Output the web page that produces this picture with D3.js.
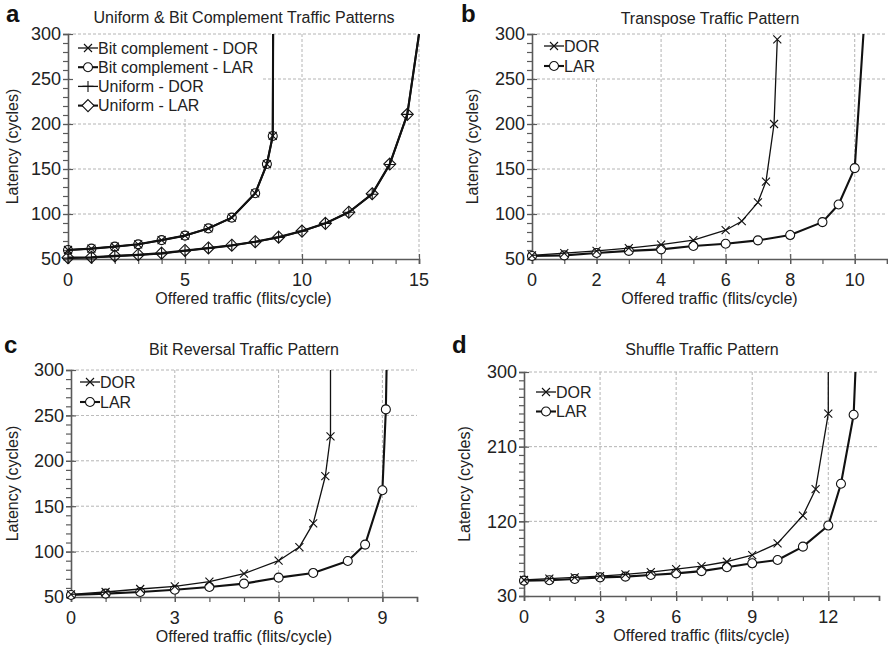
<!DOCTYPE html>
<html lang="en">
<head>
<meta charset="UTF-8">
<title>Latency vs offered traffic</title>
<script src="https://d3js.org/d3.v7.min.js"></script>
<style>
  body { margin: 0; background: #fff; }
  svg { font-family: "Liberation Sans", Arial, Helvetica, sans-serif; fill: #222; }
  .grid line { stroke: #b4b4b4; stroke-dasharray: 3,2; stroke-width: 1; }
  .axis line, .axis path { stroke: #5a5a5a; }
</style>
</head>
<body>
<svg id="chart" width="888" height="653"></svg>
<script>
// ---- panel a: uniform & bit complement ----
const bcX      = [0, 1, 2, 3, 4, 5, 6, 7, 8, 8.5, 8.75, 8.77];
const bcDOR    = [60, 61.5, 63.7, 66.3, 71, 76, 84, 96, 123, 155.5, 186.7, 330];
const bcLAR    = [60, 61.5, 63.7, 66.3, 71, 76, 84, 96, 123, 155.5, 186.7, 330];
const uniX     = [0, 1, 2, 3, 4, 5, 6, 7, 8, 9, 10, 11, 12, 13, 13.75, 14.5, 15];
const uniDOR   = [51, 51.5, 53, 54.4, 56, 59, 62, 65, 69, 74, 81, 89.6, 102, 122, 155, 210.7, 300];
const uniLAR   = [51.5, 52, 53.5, 54.8, 56.5, 59.5, 62.3, 65.3, 69.2, 74.3, 81, 89.6, 102, 122.5, 155.5, 210.7, 300];

// ---- panel b: transpose ----
const trDORx   = [0, 1, 2, 3, 4, 5, 6, 6.5, 7, 7.25, 7.5, 7.6];
const trDOR    = [54, 56.5, 59, 62, 66, 71, 82, 92, 113, 136, 200, 294];
const trLARx   = [0, 1, 2, 3, 4, 5, 6, 7, 8, 9, 9.5, 10, 10.27];
const trLAR    = [53.3, 54, 56.7, 59, 60.7, 64.4, 67, 70.7, 76.6, 91, 110.6, 151, 300];

// ---- panel c: bit reversal ----
const brDORx   = [0, 1, 2, 3, 4, 5, 6, 6.6, 7, 7.35, 7.5, 7.5];
const brDOR    = [53, 55.5, 58.8, 61.8, 67, 75.7, 90, 105, 131, 183, 227, 300];
const brLARx   = [0, 1, 2, 3, 4, 5, 6, 7, 8, 8.5, 9, 9.1, 9.12];
const brLAR    = [52.2, 53.7, 55.5, 58, 61, 64.7, 71.3, 76.5, 89.7, 107.7, 167.6, 256.6, 300];

// ---- panel d: shuffle ----
const shDORx   = [0, 1, 2, 3, 4, 5, 6, 7, 8, 9, 10, 11, 11.5, 12, 12];
const shDOR    = [49.3, 51, 52.5, 54, 56, 58.9, 62.5, 66, 71.3, 79.4, 93.5, 127, 158.7, 249.7, 300];
const shLARx   = [0, 1, 2, 3, 4, 5, 6, 7, 8, 9, 10, 11, 12, 12.5, 13, 13.07];
const shLAR    = [48.5, 49, 50.5, 52.5, 53.3, 55.3, 57.3, 60, 64.6, 69.4, 73.4, 89.5, 114.9, 165.3, 248.5, 300];

const ticks50  = [50, 100, 150, 200, 250, 300];
const ticks90  = [30, 120, 210, 300];

const svg = d3.select("#chart");

function markerPath(type, s) {
  if (type === "x") return `M${-s},${-s}L${s},${s}M${-s},${s}L${s},${-s}`;
  if (type === "plus") return `M${-s - 1},0L${s + 1},0M0,${-s - 1}L0,${s + 1}`;
  if (type === "diamond") { const d = s + 1.5; return `M0,${-d}L${d},0L0,${d}L${-d},0Z`; }
  return d3.arc()({innerRadius: 0, outerRadius: s, startAngle: 0, endAngle: 2 * Math.PI});
}

function drawPanel(p) {
  const w = p.right - p.left, h = p.bottom - p.top;
  const g = svg.append("g").attr("transform", `translate(${p.left},${p.top})`);
  const x = d3.scaleLinear().domain(p.xDomain).range([0, w]);
  const y = d3.scaleLinear().domain(p.yDomain).range([h, 0]);

  // grid
  const grid = g.append("g").attr("class", "grid");
  grid.selectAll(".gx").data(p.xTicks.filter(t => t > p.xDomain[0])).join("line")
    .attr("x1", d => x(d)).attr("x2", d => x(d)).attr("y1", 0).attr("y2", h);
  grid.selectAll(".gy").data(p.yTicks.filter(t => t > p.yDomain[0])).join("line")
    .attr("x1", 0).attr("x2", w).attr("y1", d => y(d)).attr("y2", d => y(d));

  // legend background hides grid
  if (p.legendBox) {
    g.append("rect").attr("x", 2).attr("y", 1)
      .attr("width", p.legendBox[0]).attr("height", p.legendBox[1]).attr("fill", "#fff");
  }

  // axes
  const minorX = d3.range(p.xDomain[0], p.xDomain[1] + 0.001, 1);
  const minorY = d3.range(p.yDomain[0], p.yDomain[1] + 0.001, 10);
  const ax = g.append("g").attr("class", "axis").attr("transform", `translate(0,${h})`);
  ax.call(d3.axisBottom(x).tickValues(minorX).tickSize(5).tickFormat(""));
  ax.append("g").call(d3.axisBottom(x).tickValues(p.xTicks).tickSize(5).tickSizeOuter(0).tickFormat(""))
    .call(s => s.select(".domain").remove())
    .selectAll("line").attr("y1", -5);
  ax.select(".domain").attr("stroke-width", 1.6);
  ax.selectAll("line").attr("stroke-width", 1.2);
  ax.selectAll(".xl").data(p.xTicks).join("text")
    .attr("x", d => x(d)).attr("y", 27).attr("text-anchor", "middle")
    .attr("font-size", 18).attr("fill", "#222").text(d => d);

  const ay = g.append("g").attr("class", "axis");
  ay.call(d3.axisLeft(y).tickValues(minorY).tickSize(5).tickFormat(""));
  ay.append("g").call(d3.axisLeft(y).tickValues(p.yTicks).tickSize(5).tickSizeOuter(0).tickFormat(""))
    .call(s => s.select(".domain").remove())
    .selectAll("line").attr("x1", 5);
  ay.select(".domain").attr("stroke-width", 1.6);
  ay.selectAll("line").attr("stroke-width", 1.2);
  ay.selectAll(".yl").data(p.yTicks).join("text")
    .attr("x", -7).attr("y", d => y(d)).attr("dy", "0.36em").attr("text-anchor", "end")
    .attr("font-size", 18).attr("fill", "#222").text(d => d);

  // labels
  g.append("text").attr("x", w / 2).attr("y", h + 45).attr("text-anchor", "middle")
    .attr("font-size", 16).attr("fill", "#222").text("Offered traffic (flits/cycle)");
  g.append("text").attr("transform", `translate(${p.yLabelX - p.left},${h / 2}) rotate(-90)`)
    .attr("text-anchor", "middle").attr("font-size", 16).attr("fill", "#222").text("Latency (cycles)");
  svg.append("text").attr("x", p.titleX).attr("y", p.titleY).attr("text-anchor", "middle")
    .attr("font-size", 16).attr("fill", "#222").text(p.title);
  svg.append("text").attr("x", p.letterX).attr("y", p.letterY)
    .attr("font-size", 24).attr("font-weight", "bold").attr("fill", "#111").text(p.letter);

  // series
  const clipId = "clip-" + p.letter;
  g.append("clipPath").attr("id", clipId).append("rect")
    .attr("x", -10).attr("y", 0).attr("width", w + 20).attr("height", h + 10);
  const plot = g.append("g").attr("clip-path", `url(#${clipId})`);
  const line = d3.line().x(d => x(d[0])).y(d => y(d[1]));

  p.series.forEach(s => {
    const pts = s.xs.map((v, i) => [v, s.ys[i]]);
    plot.append("path").datum(pts).attr("fill", "none").attr("stroke", "#111")
      .attr("stroke-width", s.width).attr("stroke-linejoin", "round").attr("d", line);
    plot.selectAll(null).data(pts.filter(d => d[1] < p.yDomain[1])).join("path")
      .attr("transform", d => `translate(${x(d[0])},${y(d[1])})`)
      .attr("d", markerPath(s.marker, s.marker === "x" ? 4 : 4.5))
      .attr("fill", s.marker === "x" || s.marker === "plus" ? "none" : s.fill)
      .attr("stroke", "#111").attr("stroke-width", 1.1);
  });

  // legend
  p.legend.forEach((s, i) => {
    const ly = p.legendY + i * p.legendStep;
    const lg = g.append("g").attr("transform", `translate(${p.legendX},${ly})`);
    lg.append("line").attr("x1", 0).attr("x2", 20).attr("stroke", "#111").attr("stroke-width", s.width);
    lg.append("path").attr("transform", "translate(10,0)").attr("d", markerPath(s.marker, s.marker === "x" ? 4 : 4.5))
      .attr("fill", s.marker === "x" || s.marker === "plus" ? "none" : "#fff")
      .attr("stroke", "#111").attr("stroke-width", 1.1);
    lg.append("text").attr("x", 20).attr("dy", "0.36em").attr("font-size", 16).attr("fill", "#222").text(s.name);
  });
}

const dorW = 1.3, larW = 2.1;

drawPanel({
  letter: "a", letterX: 6, letterY: 22, title: "Uniform & Bit Complement Traffic Patterns", titleX: 244, titleY: 23,
  left: 68, right: 419, top: 34, bottom: 259, yLabelX: 18,
  xDomain: [0, 15], yDomain: [50, 300], xTicks: [0, 5, 10, 15], yTicks: ticks50,
  legendBox: [192, 82], legendX: 10, legendY: 14, legendStep: 19.2,
  series: [
    {xs: bcX, ys: bcLAR, marker: "circle", fill: "none", width: larW},
    {xs: bcX, ys: bcDOR, marker: "x", width: dorW + 0.6},
    {xs: uniX, ys: uniLAR, marker: "diamond", fill: "none", width: larW},
    {xs: uniX, ys: uniDOR, marker: "plus", width: dorW + 0.6}
  ],
  legend: [
    {name: "Bit complement - DOR", marker: "x", width: dorW},
    {name: "Bit complement - LAR", marker: "circle", width: larW},
    {name: "Uniform - DOR", marker: "plus", width: dorW},
    {name: "Uniform - LAR", marker: "diamond", width: larW}
  ]
});

drawPanel({
  letter: "b", letterX: 461, letterY: 22, title: "Transpose Traffic Pattern", titleX: 710, titleY: 24,
  left: 532, right: 887, top: 34, bottom: 259, yLabelX: 478,
  xDomain: [0, 11], yDomain: [50, 300], xTicks: [0, 2, 4, 6, 8, 10], yTicks: ticks50,
  legendBox: [72, 42], legendX: 12, legendY: 12, legendStep: 20,
  series: [
    {xs: trLARx, ys: trLAR, marker: "circle", fill: "#fff", width: larW},
    {xs: trDORx, ys: trDOR, marker: "x", width: dorW}
  ],
  legend: [
    {name: "DOR", marker: "x", width: dorW},
    {name: "LAR", marker: "circle", width: larW}
  ]
});

drawPanel({
  letter: "c", letterX: 4, letterY: 353, title: "Bit Reversal Traffic Pattern", titleX: 244, titleY: 355,
  left: 71, right: 417, top: 370, bottom: 597, yLabelX: 18,
  xDomain: [0, 10], yDomain: [50, 300], xTicks: [0, 3, 6, 9], yTicks: ticks50,
  legendBox: [70, 44], legendX: 9, legendY: 12, legendStep: 20,
  series: [
    {xs: brLARx, ys: brLAR, marker: "circle", fill: "#fff", width: larW},
    {xs: brDORx, ys: brDOR, marker: "x", width: dorW}
  ],
  legend: [
    {name: "DOR", marker: "x", width: dorW},
    {name: "LAR", marker: "circle", width: larW}
  ]
});

drawPanel({
  letter: "d", letterX: 452, letterY: 353, title: "Shuffle Traffic Pattern", titleX: 702, titleY: 355,
  left: 524, right: 879, top: 372, bottom: 596, yLabelX: 470,
  xDomain: [0, 14], yDomain: [30, 300], xTicks: [0, 3, 6, 9, 12], yTicks: ticks90,
  legendBox: [70, 44], legendX: 12, legendY: 20, legendStep: 19.5,
  series: [
    {xs: shLARx, ys: shLAR, marker: "circle", fill: "#fff", width: larW},
    {xs: shDORx, ys: shDOR, marker: "x", width: dorW}
  ],
  legend: [
    {name: "DOR", marker: "x", width: dorW},
    {name: "LAR", marker: "circle", width: larW}
  ]
});
</script>
</body>
</html>
